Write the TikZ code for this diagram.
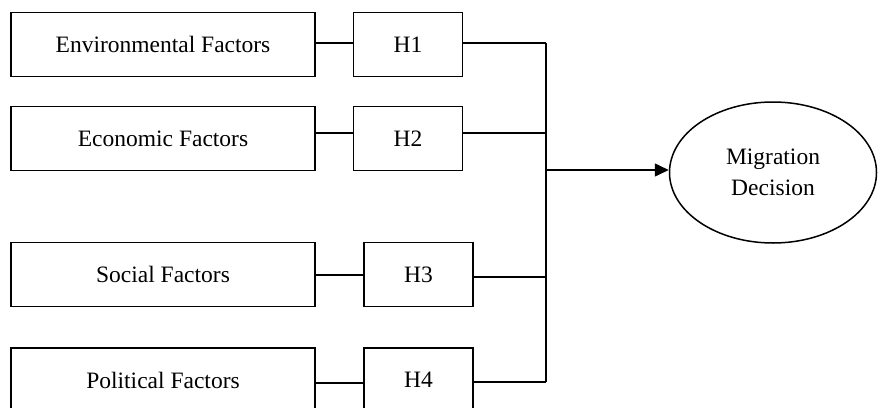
\documentclass[tikz,border=0pt]{standalone}
\usepackage{fontspec}
\setmainfont{Liberation Serif}
\usetikzlibrary{arrows.meta,shapes.geometric}
\begin{document}
\begin{tikzpicture}[x=1pt,y=-1pt,
  line width=1.5pt,
  factor/.style={draw,rectangle,minimum width=304pt,minimum height=64pt,inner sep=0pt,font=\fontsize{23.5}{28}\selectfont},
  hyp/.style={draw,rectangle,minimum width=109pt,minimum height=64pt,inner sep=0pt,font=\fontsize{23.5}{28}\selectfont},
  outcome/.style={draw,ellipse,minimum width=207pt,minimum height=141pt,inner sep=0pt,align=center,font=\fontsize{23.5}{31}\selectfont},
  link/.style={draw},
  arr/.style={-{Triangle[length=14pt,width=13pt]}}]
\clip (0,0) rectangle (878,407);

% factor boxes
\node[factor] (env) at (163,44.5) {Environmental Factors};
\node[factor] (eco) at (163,138.5) {Economic Factors};
\node[factor] (soc) at (163,274.5) {Social Factors};
\node[factor] (pol) at (163,380) {Political Factors};

% hypothesis boxes
\node[hyp] (h1) at (408,44.5) {H1};
\node[hyp] (h2) at (408,138.5) {H2};
\node[hyp] (h3) at (418.5,274.5) {H3};
\node[hyp] (h4) at (418.5,380) {H4};

% outcome
\node[outcome] (mig) at (773,172.5) {Migration\\Decision};

% junction points on the collecting bus
\coordinate (j1) at (546,43);
\coordinate (j2) at (546,133);
\coordinate (j3) at (546,277);
\coordinate (j4) at (546,382);
\coordinate (jm) at (546,170);

% factor -> hypothesis links
\draw[link] ([yshift=1.5pt]env.east) -- ([yshift=1.5pt]h1.west);
\draw[link] ([yshift=5.5pt]eco.east) -- ([yshift=5.5pt]h2.west);
\draw[link] ([yshift=-0.5pt]soc.east) -- ([yshift=-0.5pt]h3.west);
\draw[link] ([yshift=-3pt]pol.east) -- ([yshift=-3pt]h4.west);

% hypothesis -> bus
\draw[link] (h1.east |- j1) -- (j1);
\draw[link] (h2.east |- j2) -- (j2);
\draw[link] (h3.east |- j3) -- (j3);
\draw[link] (h4.east |- j4) -- (j4);
\draw[link] (j1) -- (j4);

% bus -> outcome
\draw[arr] (jm) -- (mig.west |- jm);
\end{tikzpicture}
\end{document}
